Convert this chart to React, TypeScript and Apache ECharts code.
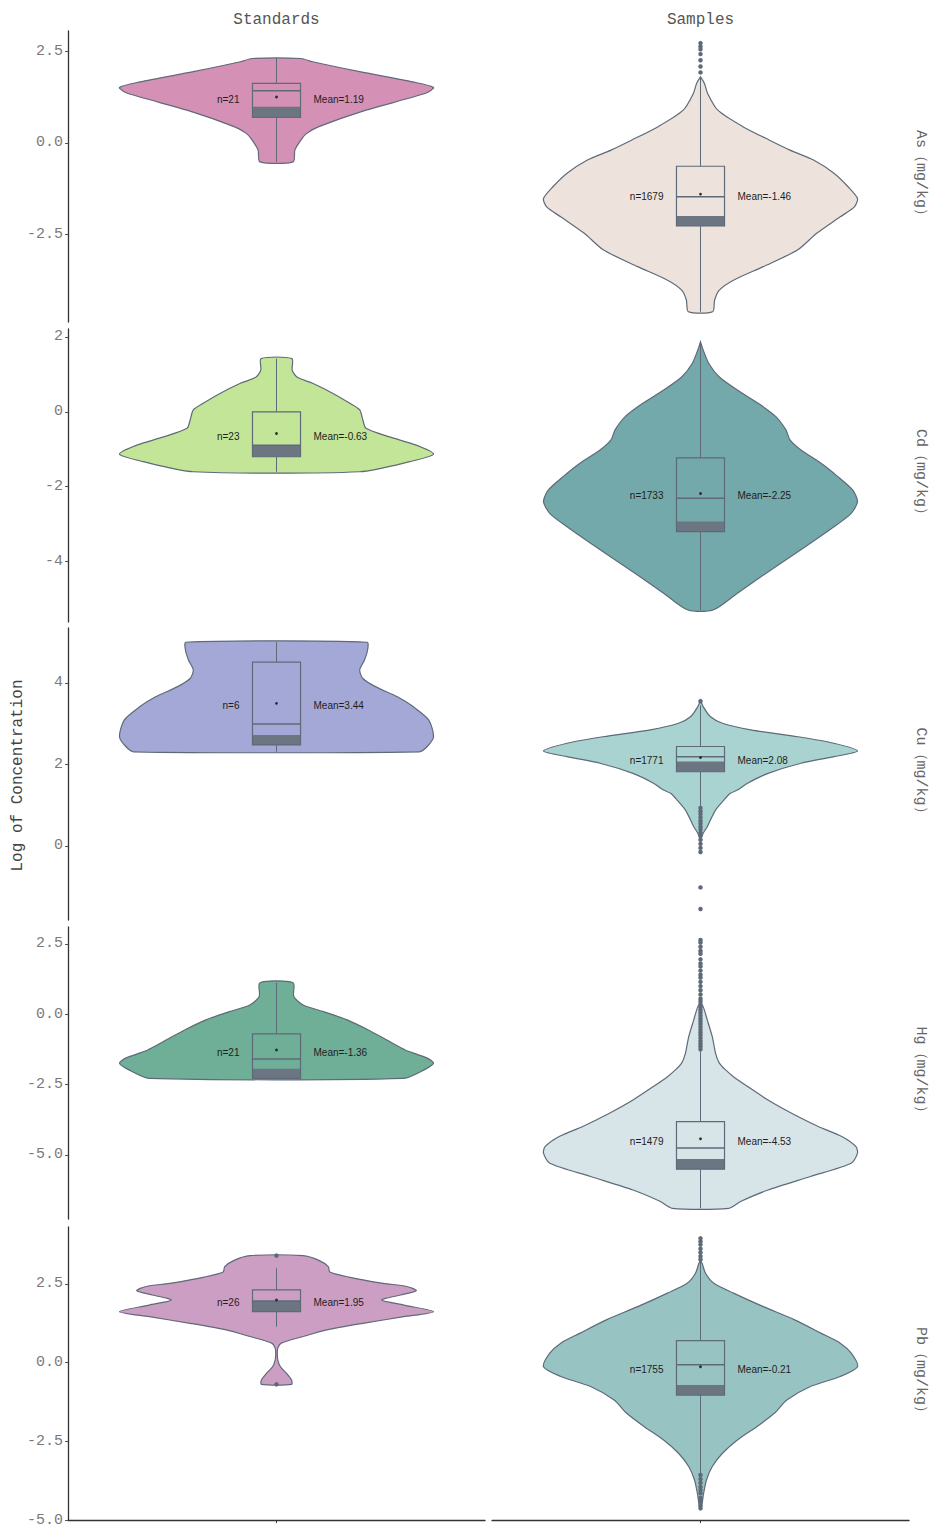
import React, { useEffect, useRef } from "react";
import * as echarts from "echarts";

// ---------- DATA ----------
const columns = ["Standards", "Samples"];
const stripLabels = ["As（mg/kg）", "Cd（mg/kg）", "Cu（mg/kg）", "Hg（mg/kg）", "Pb（mg/kg）"];
const yTitle = "Log of Concentration";

const yMins = [-4.89, -5.61, -1.82, -7.28, -5.0];
const yMaxs = [3.05, 2.21, 5.35, 3.1, 4.31];
const yTicks = [
  [-2.5, 0, 2.5],
  [-4, -2, 0, 2],
  [0, 2, 4],
  [-5, -2.5, 0, 2.5],
  [-5, -2.5, 0, 2.5],
];
const yTickDecimals = [1, 0, 0, 1, 1];

// order: As-Std, As-Smp, Cd-Std, Cd-Smp, Cu-Std, Cu-Smp, Hg-Std, Hg-Smp, Pb-Std, Pb-Smp
const violinColors = [
  "#d590b5", "#ede3dc", "#c3e597", "#73a9aa", "#a4a8d6",
  "#a9d3d0", "#6fae97", "#d8e5e8", "#cd9ec4", "#97c4c3",
];

// violin outlines: [log value, relative half width]
const profileAsStandards = [
  [2.3, 0.155], [2.21, 0.23], [1.94, 0.53], [1.66, 0.87], [1.51, 1.0], [1.35, 0.95],
  [0.89, 0.57], [0.44, 0.27], [0.25, 0.19], [0.07, 0.155], [-0.2, 0.117], [-0.52, 0.106],
];
const profileAsSamples = [
  [1.8, 0.0], [1.62, 0.025], [1.35, 0.045], [0.89, 0.11], [0.44, 0.27], [0.07, 0.44],
  [-0.2, 0.57], [-0.47, 0.72], [-0.83, 0.85], [-1.2, 0.94], [-1.52, 1.0], [-1.75, 0.98],
  [-2.02, 0.89], [-2.47, 0.74], [-2.92, 0.62], [-3.38, 0.4], [-3.75, 0.21], [-4.02, 0.12],
  [-4.29, 0.09], [-4.61, 0.077],
];
const profileCdStandards = [
  [1.42, 0.098], [1.11, 0.1], [0.93, 0.13], [0.76, 0.23], [0.49, 0.36], [0.22, 0.47],
  [0.05, 0.53], [-0.22, 0.55], [-0.44, 0.57], [-0.67, 0.72], [-0.89, 0.89], [-1.13, 1.0],
  [-1.33, 0.85], [-1.6, 0.53],
];
const profileCdSamples = [
  [1.87, 0.0], [1.65, 0.017], [1.29, 0.053], [0.93, 0.12], [0.58, 0.235], [0.22, 0.37],
  [-0.13, 0.48], [-0.49, 0.545], [-0.75, 0.57], [-1.02, 0.64], [-1.38, 0.77], [-1.73, 0.875],
  [-2.09, 0.97], [-2.4, 1.0], [-2.71, 0.96], [-3.07, 0.85], [-3.51, 0.7], [-3.95, 0.545],
  [-4.4, 0.385], [-4.84, 0.235], [-5.29, 0.08],
];
const profileCuStandards = [
  [5.0, 0.577], [4.81, 0.58], [4.56, 0.56], [4.32, 0.53], [4.11, 0.55], [3.91, 0.63],
  [3.66, 0.77], [3.42, 0.87], [3.09, 0.97], [2.68, 1.0], [2.44, 0.96], [2.31, 0.91],
];
const profileCuSamples = [
  [3.58, 0.0], [3.42, 0.017], [3.17, 0.064], [3.01, 0.14], [2.85, 0.32], [2.68, 0.62],
  [2.52, 0.85], [2.33, 1.0], [2.19, 0.85], [2.03, 0.64], [1.78, 0.43], [1.54, 0.3],
  [1.37, 0.235], [1.29, 0.19], [1.13, 0.15], [0.88, 0.096], [0.64, 0.064], [0.47, 0.043],
  [0.31, 0.017], [0.15, 0.0],
];
const profileHgStandards = [
  [1.12, 0.106], [0.63, 0.11], [0.33, 0.17], [0.09, 0.3], [-0.2, 0.45], [-0.56, 0.585],
  [-0.91, 0.7], [-1.27, 0.82], [-1.56, 0.96], [-1.74, 1.0], [-1.98, 0.94], [-2.28, 0.81],
];
const profileHgSamples = [
  [0.39, 0.0], [0.27, 0.017], [-0.2, 0.043], [-0.8, 0.075], [-1.39, 0.096], [-1.74, 0.12],
  [-1.98, 0.16], [-2.22, 0.21], [-2.57, 0.3], [-3.05, 0.43], [-3.52, 0.58], [-3.99, 0.75],
  [-4.35, 0.9], [-4.71, 0.99], [-4.94, 1.0], [-5.3, 0.96], [-5.77, 0.7], [-6.25, 0.43],
  [-6.66, 0.255], [-6.9, 0.18],
];
const profilePbStandards = [
  [3.4, 0.17], [3.25, 0.27], [3.05, 0.33], [2.88, 0.34], [2.72, 0.46], [2.52, 0.68],
  [2.42, 0.83], [2.29, 0.89], [2.15, 0.79], [1.99, 0.67], [1.83, 0.81], [1.62, 1.0],
  [1.46, 0.81], [1.25, 0.55], [1.04, 0.32], [0.83, 0.17], [0.62, 0.03], [0.46, 0.008],
  [0.3, 0.005], [0.09, 0.008], [-0.13, 0.025], [-0.34, 0.064], [-0.55, 0.096], [-0.69, 0.096],
];
const profilePbSamples = [
  [3.26, 0.0], [3.16, 0.01], [2.84, 0.032], [2.52, 0.085], [2.21, 0.21], [1.78, 0.4],
  [1.36, 0.6], [0.93, 0.77], [0.62, 0.89], [0.3, 0.96], [-0.13, 1.0], [-0.44, 0.89],
  [-0.76, 0.7], [-1.19, 0.55], [-1.61, 0.47], [-2.03, 0.36], [-2.46, 0.235], [-2.88, 0.14],
  [-3.3, 0.075], [-3.73, 0.038], [-4.15, 0.02], [-4.58, 0.006],
];
const profiles = [
  profileAsStandards, profileAsSamples, profileCdStandards, profileCdSamples,
  profileCuStandards, profileCuSamples, profileHgStandards, profileHgSamples,
  profilePbStandards, profilePbSamples,
];

// box statistics
const q3s = [1.62, -0.64, 0.0, -1.23, 4.51, 2.44, -0.7, -3.82, 2.31, 0.7];
const medians = [1.42, -1.47, -0.89, -2.31, 2.99, 2.19, -1.59, -4.76, 1.96, -0.07];
const bandTops = [0.98, -2.0, -0.89, -2.93, 2.72, 2.07, -1.94, -5.15, 1.96, -0.71];
const q1s = [0.69, -2.27, -1.2, -3.2, 2.48, 1.82, -2.28, -5.51, 1.62, -1.03];
const meanDots = [1.25, -1.4, -0.58, -2.18, 3.5, 2.17, -1.27, -4.43, 1.99, -0.13];
const whiskerHis = [2.3, 1.8, 1.42, 1.87, 5.0, 3.45, 1.12, -1.3, 3.0, 3.26];
const whiskerLos = [-0.52, -4.61, -1.6, -5.29, 2.31, 0.96, -2.28, -6.9, 1.14, -3.57];

const outliers = [
  [],
  [2.72, 2.63, 2.55, 2.42, 2.25, 2.08, 1.92],
  [],
  [],
  [],
  [3.55, 0.93, 0.85, 0.78, 0.7, 0.62, 0.55, 0.47, 0.4, 0.32, 0.25, 0.15, 0.05, -0.05, -0.15, -1.02, -1.55],
  [],
  [2.64, 2.55, 2.4, 2.25, 2.15, 1.95, 1.8, 1.7, 1.55, 1.4, 1.3, 1.15, 1.0, 0.85, 0.7, 0.55, 0.45,
    0.35, 0.25, 0.15, 0.05, -0.05, -0.15, -0.25, -0.35, -0.45, -0.55, -0.65, -0.75, -0.85, -0.95,
    -1.05, -1.15, -1.25],
  [3.4, -0.69],
  [3.95, 3.85, 3.75, 3.62, 3.5, 3.38, 3.28, -3.57, -3.7, -3.82, -3.95, -4.05, -4.15, -4.3, -4.42,
    -4.55, -4.63],
];

const nLabels = ["n=21", "n=1679", "n=23", "n=1733", "n=6", "n=1771", "n=21", "n=1479", "n=26", "n=1755"];
const meanLabels = [
  "Mean=1.19", "Mean=-1.46", "Mean=-0.63", "Mean=-2.25", "Mean=3.44",
  "Mean=2.08", "Mean=-1.36", "Mean=-4.53", "Mean=1.95", "Mean=-0.21",
];

// ---------- LAYOUT / STYLE ----------
const W = 932;
const H = 1530;
const colLefts = [68, 492];
const colWidth = 417;
const rowTops = [31, 329, 628, 927, 1227];
const rowHeights = [291, 293, 292, 292, 293];
const X_EXT = 1.328;
const BOX_HW = 0.153;
const OUTLINE = "#5e6a78";
const BAND = "#6c7582";
const MONO = "'Liberation Mono', 'DejaVu Sans Mono', monospace";
const SANS = "'Liberation Sans', Arial, sans-serif";

function buildOption() {
  const grid: any[] = [];
  const xAxis: any[] = [];
  const yAxis: any[] = [];
  const series: any[] = [];
  const graphic: any[] = [];

  for (let r = 0; r < 5; r++) {
    for (let c = 0; c < 2; c++) {
      const k = r * 2 + c;
      grid.push({ left: colLefts[c], top: rowTops[r], width: colWidth, height: rowHeights[r], containLabel: false });
      const bottomRow = r === 4;
      xAxis.push({
        type: "value",
        gridIndex: k,
        min: -X_EXT,
        max: X_EXT,
        show: bottomRow,
        axisLine: { show: bottomRow, onZero: false, lineStyle: { color: "#333", width: 1.3 } },
        axisTick: { show: bottomRow, customValues: [0], length: 3, lineStyle: { color: "#333" } },
        axisLabel: { show: false },
        splitLine: { show: false },
      });
      yAxis.push({
        type: "value",
        gridIndex: k,
        min: yMins[r],
        max: yMaxs[r],
        show: c === 0,
        axisLine: { show: c === 0, onZero: false, lineStyle: { color: "#333", width: 1.3 } },
        axisTick: { show: c === 0, customValues: yTicks[r], length: 3, lineStyle: { color: "#555" } },
        axisLabel: {
          show: c === 0,
          customValues: yTicks[r],
          formatter: (v: number) => v.toFixed(yTickDecimals[r]),
          color: "#7a7a7a",
          fontFamily: MONO,
          fontSize: 15,
          margin: 5,
        },
        splitLine: { show: false },
      });

      const renderItem = (params: any, api: any) => {
        const prof = profiles[k];
        const right = prof.map((p: number[]) => api.coord([p[1], p[0]]));
        const left = prof.slice().reverse().map((p: number[]) => api.coord([-p[1], p[0]]));
        const pts = right.concat(left);
        const cx = api.coord([0, meanDots[k]]);
        const tl = api.coord([-BOX_HW, q3s[k]]);
        const br = api.coord([BOX_HW, q1s[k]]);
        const bandTL = api.coord([-BOX_HW, bandTops[k]]);
        const med = api.coord([0, medians[k]]);
        const wHi = api.coord([0, whiskerHis[k]]);
        const wLo = api.coord([0, whiskerLos[k]]);
        const children: any[] = [
          {
            type: "polygon",
            shape: { points: pts, smooth: 0.25 },
            style: { fill: violinColors[k], stroke: OUTLINE, lineWidth: 1.2 },
          },
          {
            type: "line",
            shape: { x1: wHi[0], y1: wHi[1], x2: wHi[0], y2: tl[1] },
            style: { stroke: OUTLINE, lineWidth: 1 },
          },
          {
            type: "line",
            shape: { x1: wLo[0], y1: br[1], x2: wLo[0], y2: wLo[1] },
            style: { stroke: OUTLINE, lineWidth: 1 },
          },
          {
            type: "rect",
            shape: { x: bandTL[0], y: bandTL[1], width: br[0] - bandTL[0], height: br[1] - bandTL[1] },
            style: { fill: BAND, stroke: "none" },
          },
          {
            type: "rect",
            shape: { x: tl[0], y: tl[1], width: br[0] - tl[0], height: br[1] - tl[1] },
            style: { fill: "none", stroke: OUTLINE, lineWidth: 1.2 },
          },
          {
            type: "line",
            shape: { x1: tl[0], y1: med[1], x2: br[0], y2: med[1] },
            style: { stroke: OUTLINE, lineWidth: 1.5 },
          },
          {
            type: "circle",
            shape: { cx: cx[0], cy: cx[1], r: 1.4 },
            style: { fill: "#2a2a2a" },
          },
          {
            type: "text",
            x: cx[0] - 37,
            y: cx[1] + 2.5,
            style: {
              text: nLabels[k],
              fill: "#1e1e1e",
              fontFamily: SANS,
              fontSize: 10,
              align: "right",
              verticalAlign: "middle",
            },
          },
          {
            type: "text",
            x: cx[0] + 37,
            y: cx[1] + 2.5,
            style: {
              text: meanLabels[k],
              fill: "#1e1e1e",
              fontFamily: SANS,
              fontSize: 10,
              align: "left",
              verticalAlign: "middle",
            },
          },
        ];
        return { type: "group", children };
      };

      series.push({
        type: "custom",
        xAxisIndex: k,
        yAxisIndex: k,
        silent: true,
        clip: false,
        data: [[0, meanDots[k]]],
        renderItem,
        z: 2,
      });
      series.push({
        type: "scatter",
        xAxisIndex: k,
        yAxisIndex: k,
        silent: true,
        symbolSize: 4.5,
        itemStyle: { color: OUTLINE, opacity: 1 },
        data: outliers[k].map((v) => [0, v]),
        z: 3,
      });
    }
    graphic.push({
      type: "text",
      x: 920,
      y: rowTops[r] + rowHeights[r] / 2,
      rotation: -Math.PI / 2,
      style: {
        text: stripLabels[r],
        fill: "#666",
        fontFamily: MONO,
        fontSize: 15,
        align: "center",
        verticalAlign: "middle",
      },
    });
  }

  columns.forEach((name, c) => {
    graphic.push({
      type: "text",
      x: colLefts[c] + colWidth / 2,
      y: 20,
      style: {
        text: name,
        fill: "#555",
        fontFamily: MONO,
        fontSize: 16,
        align: "center",
        verticalAlign: "middle",
      },
    });
  });
  graphic.push({
    type: "text",
    x: 18,
    y: (rowTops[0] + rowTops[4] + rowHeights[4]) / 2,
    rotation: Math.PI / 2,
    style: {
      text: yTitle,
      fill: "#444",
      fontFamily: MONO,
      fontSize: 16,
      align: "center",
      verticalAlign: "middle",
    },
  });

  return {
    animation: false,
    backgroundColor: "#ffffff",
    grid,
    xAxis,
    yAxis,
    series,
    graphic,
  };
}

export default function App() {
  const ref = useRef<HTMLDivElement>(null);
  useEffect(() => {
    document.body.style.margin = "0";
    if (!ref.current) return;
    const chart = echarts.init(ref.current, undefined, { renderer: "svg" });
    chart.setOption(buildOption());
    return () => chart.dispose();
  }, []);
  return <div ref={ref} style={{ width: W, height: H }} />;
}
